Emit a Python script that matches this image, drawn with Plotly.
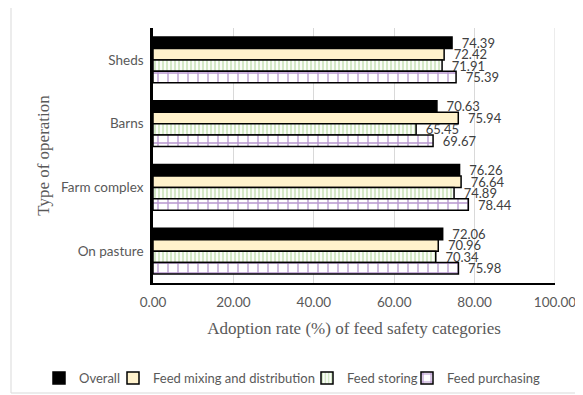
import plotly.graph_objects as go

categories = ["Sheds", "Barns", "Farm complex", "On pasture"]
series_names = ["Overall", "Feed mixing and distribution", "Feed storing", "Feed purchasing"]
overall = [74.39, 70.63, 76.26, 72.06]
feed_mixing = [72.42, 75.94, 76.64, 70.96]
feed_storing = [71.91, 65.45, 74.89, 70.34]
feed_purchasing = [75.39, 69.67, 78.44, 75.98]
x_ticks = [0, 20, 40, 60, 80, 100]

# page size and the 8px body offset of the rendered page
W, H = 583, 395
OFF = 8
PL, PR, PT, PB = 153, 555, 28, 283   # plot area in page pixels
pw, ph = PR - PL, PB - PT

def px_x(x):
    return (x - PL) / pw

def px_y(y):
    return (PB - y) / ph

fig = go.Figure()
label_font = dict(family="Lato, Carlito, sans-serif", size=13, color="#404040")
common = dict(orientation="h", y=categories, texttemplate="\u00a0\u00a0%{x:.2f}",
              textposition="outside", textfont=label_font, cliponaxis=False,
              constraintext="none", showlegend=True)

line = dict(color="#000000", width=1.5)
markers = [
    dict(color="#000000", line=line),
    dict(color="#FFF2CC", line=line),
    dict(color="#FFFFFF", line=line,
         pattern=dict(shape="|", fgcolor="#A9D18E", bgcolor="#FFFFFF",
                      size=4, solidity=0.55, fillmode="overlay")),
    dict(color="#FFFFFF", line=line,
         pattern=dict(shape="+", fgcolor="#7030A0", bgcolor="#FFFFFF",
                      size=10, solidity=0.25, fillmode="overlay")),
]
values = [overall, feed_mixing, feed_storing, feed_purchasing]
legend_ids = ["legend", "legend2", "legend3", "legend4"]
for name, vals, mk, lg in zip(series_names, values, markers, legend_ids):
    fig.add_trace(go.Bar(name=name, x=vals, marker=mk, legend=lg, **common))

# legend entries: text start positions in page pixels
legend_text_x = [79, 153, 347, 447]
legend_common = dict(orientation="h", xanchor="left", y=px_y(378), yanchor="middle",
                     font=dict(family="Lato, Carlito, sans-serif", size=13, color="#595959"),
                     itemwidth=30, bgcolor="rgba(0,0,0,0)")
legends = {}
for lg, tx in zip(legend_ids, legend_text_x):
    legends[lg] = dict(x=px_x(tx - 40), **legend_common)

fig.update_layout(
    width=W - OFF, height=H - OFF,
    margin=dict(l=PL - OFF, r=W - PR, t=PT - OFF, b=H - PB, autoexpand=False),
    paper_bgcolor="white", plot_bgcolor="white",
    showlegend=True,
    barmode="group", bargap=0.28, bargroupgap=0,
    font=dict(family="Lato, Carlito, sans-serif", size=13, color="#595959"),
    xaxis=dict(range=[0, 100], tickvals=x_ticks,
               ticktext=[f"{v:.2f}" for v in x_ticks],
               showgrid=True, gridcolor="#D9D9D9", gridwidth=1,
               showline=True, linecolor="#000000", linewidth=2,
               zeroline=False, ticks="", ticklabelstandoff=6,
               tickfont=dict(size=13.5, color="#595959"),
               title=dict(text="Adoption rate (%) of feed safety categories",
                          font=dict(family="Liberation Serif, serif", size=17, color="#595959"),
                          standoff=13)),
    yaxis=dict(autorange="reversed", showgrid=False,
               showline=True, linecolor="#000000", linewidth=2.5,
               ticks="", ticklabelstandoff=4,
               tickfont=dict(size=13.5, color="#595959"),
               title=dict(text="Type of operation",
                          font=dict(family="Liberation Serif, serif", size=17, color="#595959"),
                          standoff=8)),
    shapes=[dict(type="rect", xref="paper", yref="paper",
                 x0=px_x(11), x1=px_x(590), y0=px_y(393), y1=px_y(7),
                 line=dict(color="#D9D9D9", width=1), layer="below"),
            dict(type="line", xref="x", yref="paper",
                 x0=x_ticks[-1], x1=x_ticks[-1], y0=0, y1=1,
                 line=dict(color="#D9D9D9", width=1), layer="below")],
    **legends,
)

fig.write_html("out.html")
